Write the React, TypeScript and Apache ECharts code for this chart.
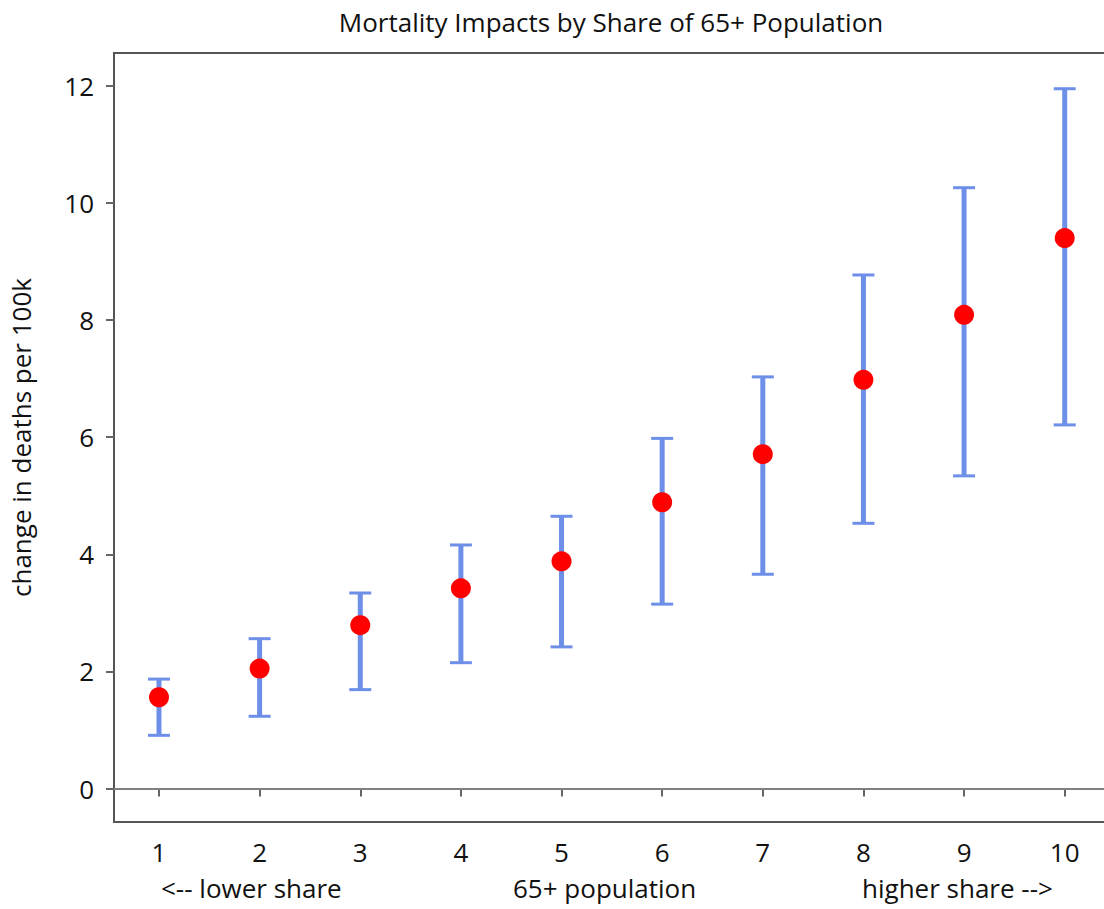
import React, { useEffect, useRef } from "react";
import * as echarts from "echarts";

const groups = [1, 2, 3, 4, 5, 6, 7, 8, 9, 10];
const estimates = [1.56, 2.05, 2.79, 3.42, 3.88, 4.89, 5.71, 6.98, 8.09, 9.4];
const lowerCI = [0.91, 1.235, 1.69, 2.15, 2.42, 3.15, 3.66, 4.53, 5.34, 6.21];
const upperCI = [1.87, 2.56, 3.34, 4.16, 4.65, 5.98, 7.03, 8.77, 10.26, 11.95];
const yTicks = [0, 2, 4, 6, 8, 10, 12];
const xTicks = [1, 2, 3, 4, 5, 6, 7, 8, 9, 10];

const FONT = "Open Sans";

export default function App() {
  const ref = useRef<HTMLDivElement>(null);
  useEffect(() => {
    if (!ref.current) return;
    const chart = echarts.init(ref.current, null, { renderer: "svg" });
    const barData = groups.map((g, i) => [g, lowerCI[i], upperCI[i]]);
    const ptData = groups.map((g, i) => [g, estimates[i]]);
    chart.setOption({
      animation: false,
      backgroundColor: "#ffffff",
      textStyle: { fontFamily: FONT },
      title: {
        text: "Mortality Impacts by Share of 65+ Population",
        left: 606,
        top: 4,
        textAlign: "center",
        textStyle: { fontFamily: FONT, fontSize: 26, fontWeight: "normal", color: "#111" },
      },
      grid: {
        left: 114,
        right: 10,
        top: 53,
        bottom: 87,
        show: true,
        borderColor: "#555",
        borderWidth: 2,
        containLabel: false,
      },
      xAxis: {
        type: "value",
        min: 0.553,
        max: 10.45,
        splitLine: { show: false },
        axisLine: { show: true, lineStyle: { color: "#555", width: 2 } },
        axisTick: { show: true, customValues: xTicks, length: 8, lineStyle: { color: "#666", width: 2 } },
        axisLabel: {
          customValues: xTicks,
          margin: 17,
          fontFamily: FONT,
          fontSize: 26,
          color: "#111",
        },
      },
      yAxis: {
        type: "value",
        min: -0.57,
        max: 12.56,
        name: "change in deaths per 100k",
        nameLocation: "middle",
        nameGap: 80,
        nameTextStyle: { fontFamily: FONT, fontSize: 26, color: "#111" },
        splitLine: { show: false },
        axisLine: { show: true, lineStyle: { color: "#555", width: 2 } },
        axisTick: { show: true, customValues: yTicks, length: 8, lineStyle: { color: "#666", width: 2 } },
        axisLabel: {
          customValues: yTicks,
          margin: 20,
          fontFamily: FONT,
          fontSize: 26,
          color: "#111",
        },
      },
      graphic: [
        {
          type: "text",
          left: 161,
          top: 875,
          style: { text: "<-- lower share", fontFamily: FONT, fontSize: 26, fill: "#111" },
        },
        {
          type: "text",
          left: 513,
          top: 875,
          style: { text: "65+ population", fontFamily: FONT, fontSize: 26, fill: "#111" },
        },
        {
          type: "text",
          left: 862,
          top: 875,
          style: { text: "higher share -->", fontFamily: FONT, fontSize: 26, fill: "#111" },
        },
      ],
      series: [
        {
          type: "custom",
          name: "CI",
          data: barData,
          encode: { x: 0, y: [1, 2] },
          renderItem: (params: any, api: any) => {
            const x = api.value(0);
            const lo = api.coord([x, api.value(1)]);
            const hi = api.coord([x, api.value(2)]);
            const hw = 11;
            const color = "#6e8fe8";
            return {
              type: "group",
              children: [
                { type: "line", shape: { x1: lo[0], y1: lo[1], x2: hi[0], y2: hi[1] }, style: { stroke: color, lineWidth: 5 } },
                { type: "line", shape: { x1: lo[0] - hw, y1: lo[1], x2: lo[0] + hw, y2: lo[1] }, style: { stroke: color, lineWidth: 3 } },
                { type: "line", shape: { x1: hi[0] - hw, y1: hi[1], x2: hi[0] + hw, y2: hi[1] }, style: { stroke: color, lineWidth: 3 } },
              ],
            };
          },
          z: 2,
        },
        {
          type: "scatter",
          name: "estimate",
          data: ptData,
          symbol: "circle",
          symbolSize: 20,
          itemStyle: { color: "#ff0000", opacity: 1 },
          z: 3,
          markLine: {
            silent: true,
            symbol: ["none", "none"],
            label: { show: false },
            lineStyle: { color: "#808080", width: 2, type: "solid" },
            data: [{ yAxis: 0 }],
          },
        },
      ],
    });
    return () => chart.dispose();
  }, []);
  return (
    <div
      ref={ref}
      style={{ position: "fixed", left: 0, top: 0, width: 1120, height: 909, background: "#fff" }}
    />
  );
}
